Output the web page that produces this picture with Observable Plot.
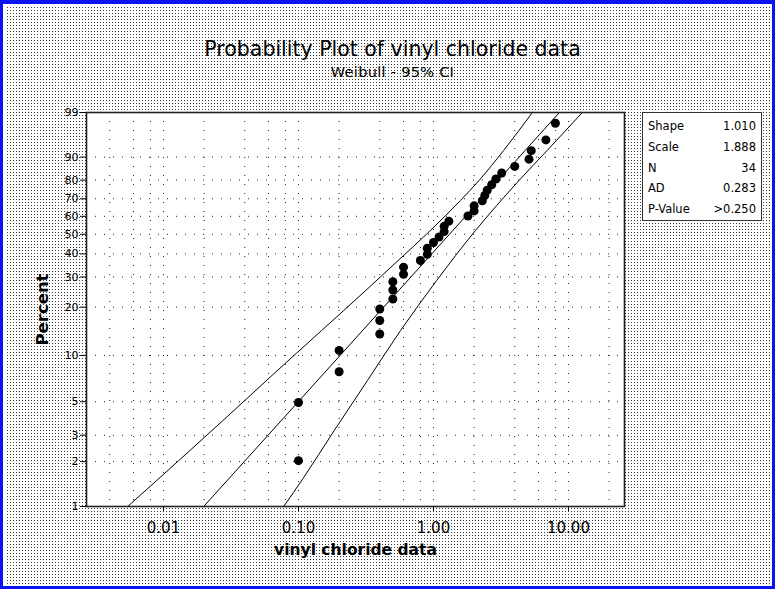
<!DOCTYPE html>
<html><head><meta charset="utf-8">
<script src="https://cdn.jsdelivr.net/npm/d3@7"></script>
<script src="https://cdn.jsdelivr.net/npm/@observablehq/plot@0.6"></script>
<style>
body{margin:0;}
#fig{position:relative;width:775px;height:589px;overflow:hidden;background-color:#fff;
 background-image:radial-gradient(circle,#3a3a3a 0.6px,transparent 0.85px);background-size:3px 3px;
 font-family:"DejaVu Sans",sans-serif;color:#000;}
#border{position:absolute;left:0;top:0;width:775px;height:589px;box-sizing:border-box;border:3px solid #0a14f0;border-top-width:4px;box-shadow:inset 0 0 0 2px #fff;pointer-events:none;}
#title{position:absolute;left:0;width:785px;top:37px;text-align:center;font-size:20.5px;}
#subtitle{position:absolute;left:0;width:785px;top:64px;text-align:center;font-size:14.5px;letter-spacing:0.3px;}
#chart{position:absolute;left:0;top:0;}
#legend{position:absolute;left:642px;top:112px;width:120px;height:109px;box-sizing:border-box;border:1.5px solid #333;background:#fff;padding:3px 5px 0 5px;font-size:11.5px;}
#legend div{display:flex;justify-content:space-between;height:20.8px;line-height:20.8px;}
</style></head>
<body>
<div id="fig">
  <div id="title">Probability Plot of vinyl chloride data</div>
  <div id="subtitle">Weibull - 95% CI</div>
  <div id="chart"></div>
  <div id="legend"></div>
  <div id="border"></div>
</div>
<script>
// Sorted vinyl chloride observations and their plotted percents (median ranks)
const values = [0.1,0.1,0.2,0.2,0.4,0.4,0.4,0.5,0.5,0.5,0.6,0.6,0.8,0.9,0.9,1.0,1.1,1.2,1.2,1.3,1.8,2.0,2.0,2.3,2.4,2.5,2.7,2.9,3.2,4.0,5.1,5.3,6.8,8.0];
const percents = [2.03,4.94,7.85,10.76,13.66,16.57,19.48,22.38,25.29,28.20,31.10,34.01,36.92,39.83,42.73,45.64,48.55,51.45,54.36,57.27,60.17,63.08,65.99,68.90,71.80,74.71,77.62,80.52,83.43,86.34,89.24,92.15,95.06,97.97];

// Fitted Weibull parameters
const shape = 1.010, scale = 1.888;
const fitPercents = [1, 99];

// 95% confidence bounds
const lowerP = [1, 2.03, 4.18, 7.42, 14.37, 25.10, 36.02, 52.04, 69.01, 79.79, 92.18, 99];
const lowerX = [0.00543, 0.01297, 0.03145, 0.0636, 0.1483, 0.3147, 0.5273, 0.948, 1.583, 2.174, 3.304, 5.40];
const upperP = [1, 1.54, 3.23, 6.88, 14.37, 28.65, 52.04, 79.79, 92.18, 99];
const upperX = [0.0777, 0.1080, 0.1843, 0.3243, 0.5705, 1.056, 2.046, 4.299, 6.94, 12.67];

// Axis ticks and grid
const yTicks = [1,2,3,5,10,20,30,40,50,60,70,80,90,99];
const xTicks = [0.01, 0.1, 1, 10];
const xGrid = [0.004,0.006,0.008,0.01,0.02,0.04,0.06,0.08,0.1,0.2,0.4,0.6,0.8,1,2,4,6,8,10,20];
const xDomain = [0.00269, 26];

// Legend table
const statLabels = ["Shape","Scale","N","AD","P-Value"];
const statValues = ["1.010","1.888","34","0.283",">0.250"];

const wt = p => Math.log(-Math.log(1 - p / 100));
const inv = v => 100 * (1 - Math.exp(-Math.exp(v)));

const points = values.map((v, i) => ({x: v, y: wt(percents[i])}));
const fit = fitPercents.map(p => ({x: scale * Math.pow(-Math.log(1 - p / 100), 1 / shape), y: wt(p)}));
const lower = lowerP.map((p, i) => ({x: lowerX[i], y: wt(p)}));
const upper = upperP.map((p, i) => ({x: upperX[i], y: wt(p)}));

const font = "DejaVu Sans, sans-serif";
const chart = Plot.plot({
  width: 640, height: 560,
  marginLeft: 86, marginRight: 16, marginTop: 112, marginBottom: 54,
  style: {background: "transparent", fontFamily: font, color: "#000", overflow: "visible"},
  x: {type: "log", domain: xDomain},
  y: {domain: [wt(1), wt(99)]},
  marks: [
    Plot.frame({fill: "white", stroke: null}),
    Plot.ruleX(xGrid, {stroke: "#222", strokeDasharray: "1,8", strokeWidth: 1}),
    Plot.ruleY(yTicks.slice(1, -1), {y: d => wt(d), stroke: "#222", strokeDasharray: "1,8", strokeWidth: 1}),
    Plot.line(lower, {x: "x", y: "y", stroke: "#000", strokeWidth: 1, curve: "monotone-y", clip: true}),
    Plot.line(upper, {x: "x", y: "y", stroke: "#000", strokeWidth: 1, curve: "monotone-y", clip: true}),
    Plot.line(fit, {x: "x", y: "y", stroke: "#000", strokeWidth: 1, clip: true}),
    Plot.dot(points, {x: "x", y: "y", r: 4.5, fill: "#000", stroke: null}),
    Plot.frame({stroke: "#222", strokeWidth: 1.6}),
    Plot.axisX({ticks: xTicks, tickFormat: d3.format(".2f"), tickSize: 5, tickPadding: 11, fontSize: 15, label: null}),
    Plot.axisY({ticks: yTicks.map(wt), tickFormat: v => String(Math.round(inv(v))), tickSize: 6, tickPadding: 2, fontSize: 11, label: null}),
    Plot.text(["vinyl chloride data"], {frameAnchor: "bottom", dy: 48, fontSize: 15.5, fontWeight: "bold", fill: "#000"}),
    Plot.text(["Percent"], {frameAnchor: "left", dx: -44, rotate: -90, textAnchor: "middle", fontSize: 16.5, fontWeight: "bold", fill: "#000"})
  ]
});
document.getElementById("chart").appendChild(chart);

const legend = document.getElementById("legend");
statLabels.forEach((l, i) => {
  const row = document.createElement("div");
  const a = document.createElement("span"); a.textContent = l;
  const b = document.createElement("span"); b.textContent = statValues[i];
  row.appendChild(a); row.appendChild(b);
  legend.appendChild(row);
});
</script>
</body></html>
